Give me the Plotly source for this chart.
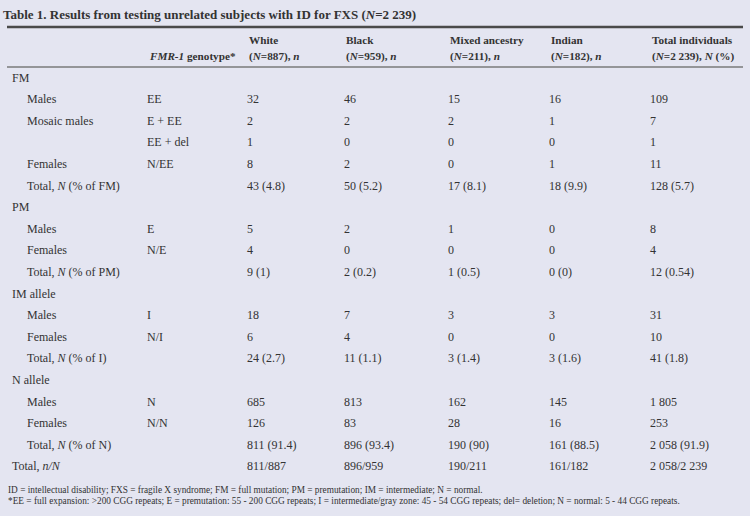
import plotly.graph_objects as go

# colores y fuente
BG = '#E4E5F1'
TXT = '#333333'
FONT = 'Liberation Serif'
W, H = 750, 516

# encabezados (dos lineas por columna)
header_top = ['', '', 'White', 'Black', 'Mixed ancestry', 'Indian', 'Total individuals']
header_bottom = [
    '',
    '<i>FMR-1</i> genotype*',
    '(<i>N</i>=887), <i>n</i>',
    '(<i>N</i>=959), <i>n</i>',
    '(<i>N</i>=211), <i>n</i>',
    '(<i>N</i>=182), <i>n</i>',
    '(<i>N</i>=2 239), <i>N</i> (%)',
]

# filas: etiqueta y nivel (0 = seccion, 1 = subfila)
row_labels = [
    'FM', 'Males', 'Mosaic males', '', 'Females', 'Total, <i>N</i> (% of FM)',
    'PM', 'Males', 'Females', 'Total, <i>N</i> (% of PM)',
    'IM allele', 'Males', 'Females', 'Total, <i>N</i> (% of I)',
    'N allele', 'Males', 'Females', 'Total, <i>N</i> (% of N)',
    'Total, <i>n/N</i>',
]
row_level = [0, 1, 1, 1, 1, 1,
             0, 1, 1, 1,
             0, 1, 1, 1,
             0, 1, 1, 1,
             0]
genotypes = ['', 'EE', 'E + EE', 'EE + del', 'N/EE', '',
             '', 'E', 'N/E', '',
             '', 'I', 'N/I', '',
             '', 'N', 'N/N', '', '']
white = ['', '32', '2', '1', '8', '43 (4.8)',
         '', '5', '4', '9 (1)',
         '', '18', '6', '24 (2.7)',
         '', '685', '126', '811 (91.4)', '811/887']
black = ['', '46', '2', '0', '2', '50 (5.2)',
         '', '2', '0', '2 (0.2)',
         '', '7', '4', '11 (1.1)',
         '', '813', '83', '896 (93.4)', '896/959']
mixed = ['', '15', '2', '0', '0', '17 (8.1)',
         '', '1', '0', '1 (0.5)',
         '', '3', '0', '3 (1.4)',
         '', '162', '28', '190 (90)', '190/211']
indian = ['', '16', '1', '0', '1', '18 (9.9)',
          '', '0', '0', '0 (0)',
          '', '3', '0', '3 (1.6)',
          '', '145', '16', '161 (88.5)', '161/182']
total = ['', '109', '7', '1', '11', '128 (5.7)',
         '', '8', '4', '12 (0.54)',
         '', '31', '10', '41 (1.8)',
         '', '1 805', '253', '2 058 (91.9)', '2 058/2 239']

footnotes = [
    'ID = intellectual disability; FXS = fragile X syndrome; FM = full mutation; '
    'PM = premutation; IM = intermediate; N = normal.',
    '*EE = full expansion: >200 CGG repeats; E = premutation: 55 - 200 CGG repeats; '
    'I = intermediate/gray zone: 45 - 54 CGG repeats; del= deletion; N = normal: 5 - 44 CGG repeats.',
]

# posiciones (pixeles)
LABEL_X = [12, 27]
COL_X = [147, 247, 344, 448, 549, 650]
Y0, STEP = 78.5, 21.6
TOP_LINE, HEAD_LINE = 27, 67
HEAD_Y = [40, 56.5]

rows = list(range(len(row_labels)))
fig = go.Figure()

fig.add_trace(go.Scatter(
    x=[LABEL_X[lv] for lv in row_level], y=rows, text=row_labels,
    mode='text', textposition='middle right', hoverinfo='skip',
    textfont=dict(family=FONT, size=12, color=TXT), showlegend=False,
))
for cx, col in zip(COL_X, [genotypes, white, black, mixed, indian, total]):
    fig.add_trace(go.Scatter(
        x=[cx] * len(col), y=rows, text=col,
        mode='text', textposition='middle right', hoverinfo='skip',
        textfont=dict(family=FONT, size=12, color=TXT), showlegend=False,
    ))

# encabezados
for cx, t1, t2 in zip([0] + COL_X, header_top, header_bottom):
    for txt, hy in zip([t1, t2], HEAD_Y):
        if txt:
            fig.add_annotation(
                text='<b>' + txt + '</b>', xref='x', yref='paper',
                x=cx, y=1 - hy / H, xanchor='left', yanchor='middle',
                showarrow=False, font=dict(family=FONT, size=11.2, color=TXT),
            )

# lineas horizontales
fig.add_shape(type='line', xref='paper', yref='paper',
              x0=7 / W, x1=743 / W, y0=1 - TOP_LINE / H, y1=1 - TOP_LINE / H,
              line=dict(color='#4a4a4a', width=2.5))
fig.add_shape(type='line', xref='paper', yref='paper',
              x0=7 / W, x1=743 / W, y0=1 - HEAD_LINE / H, y1=1 - HEAD_LINE / H,
              line=dict(color='#7a7a7a', width=1.5))

for i, txt in enumerate(footnotes):
    fig.add_annotation(
        text=txt, xref='paper', yref='paper',
        x=6 / W, y=1 - (490 + i * 10.5) / H,
        xanchor='left', yanchor='middle', showarrow=False,
        font=dict(family=FONT, size=9.3, color=TXT),
    )

top_val = -Y0 / STEP
fig.update_layout(
    title=dict(
        text='<b>Table 1. Results from testing unrelated subjects with ID for FXS (<i>N</i>=2 239)</b>',
        x=3 / W, xanchor='left', y=1 - 14.5 / H, yanchor='middle',
        font=dict(family=FONT, size=13, color=TXT),
    ),
    width=W, height=H,
    margin=dict(l=0, r=0, t=0, b=0),
    paper_bgcolor=BG, plot_bgcolor=BG,
    xaxis=dict(range=[0, W], visible=False, fixedrange=True),
    yaxis=dict(range=[top_val + H / STEP, top_val], visible=False, fixedrange=True),
)

# sin margen del body para que la figura ocupe toda la ventana
fig.write_html('out.html', config={'displayModeBar': False},
               post_script="document.body.style.margin='0';")
